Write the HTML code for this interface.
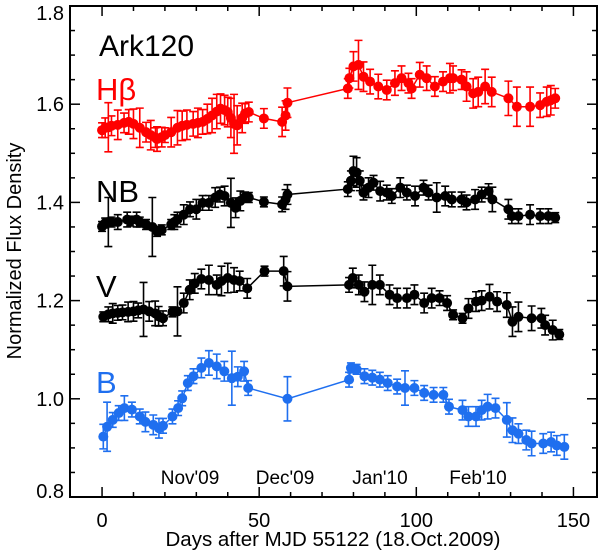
<!DOCTYPE html>
<html><head><meta charset="utf-8"><style>
html,body{margin:0;padding:0;background:#fff;}
svg{display:block;font-family:"Liberation Sans",sans-serif;}
</style></head><body>
<svg id="chart" width="600" height="550" viewBox="0 0 600 550" xmlns="http://www.w3.org/2000/svg">
<g id="axes"></g>
<g id="series"></g>
<text x="99" y="56" font-size="30">Ark120</text>
<text x="96" y="100" font-size="31" fill="#ff0000">Hβ</text>
<text x="96" y="202" font-size="31">NB</text>
<text x="96" y="297" font-size="31">V</text>
<text x="96" y="393" font-size="31" fill="#1f6fef">B</text>
<text x="190" y="484" font-size="19" text-anchor="middle">Nov'09</text>
<text x="285" y="484" font-size="19" text-anchor="middle">Dec'09</text>
<text x="380" y="484" font-size="19" text-anchor="middle">Jan'10</text>
<text x="478" y="484" font-size="19" text-anchor="middle">Feb'10</text>
<text x="333" y="546" font-size="20.5" text-anchor="middle">Days after MJD 55122 (18.Oct.2009)</text>
<text x="0" y="0" font-size="20" text-anchor="middle" transform="translate(21,251) rotate(-90)">Normalized Flux Density</text>
</svg>
<script>
const xTicks=[0,50,100,150];
const yTicks=[0.8,1.0,1.2,1.4,1.6,1.8];
const yTickLabels=["0.8","1.0","1.2","1.4","1.6","1.8"];
const hbDays=[0,1,2,3,5,7,8.5,10,12,14,15.5,17,17.5,19,20,22,24,25.5,27,29,30.5,32,33.5,35,36.5,37.7,39,40,41,42,43,44.6,45.5,46.7,51.5,57.3,58.4,59,78.2,78.7,80,81.6,83.2,85.3,87.9,90.6,93.2,95.3,97.5,98.5,101.1,103.3,105.9,108.5,110.7,111.7,114.4,116,118.1,119.7,121.9,124,129.3,132,136.2,139.4,141.5,142.8,144.2];
const hbVals=[1.547,1.552,1.553,1.556,1.558,1.562,1.564,1.56,1.552,1.543,1.537,1.532,1.529,1.533,1.537,1.543,1.552,1.556,1.558,1.56,1.562,1.564,1.57,1.577,1.585,1.591,1.588,1.584,1.572,1.56,1.557,1.572,1.581,1.584,1.571,1.564,1.577,1.603,1.632,1.653,1.677,1.68,1.656,1.646,1.636,1.629,1.643,1.653,1.643,1.632,1.66,1.653,1.636,1.646,1.653,1.653,1.65,1.636,1.622,1.625,1.636,1.625,1.612,1.595,1.595,1.598,1.605,1.608,1.612];
const hbErr=[0.015,0.02,0.05,0.02,0.03,0.02,0.025,0.03,0.04,0.02,0.03,0.02,0.025,0.02,0.015,0.03,0.035,0.03,0.03,0.025,0.03,0.025,0.03,0.035,0.035,0.03,0.03,0.03,0.04,0.06,0.04,0.03,0.02,0.02,0.02,0.03,0.03,0.03,0.02,0.02,0.03,0.05,0.03,0.025,0.025,0.02,0.025,0.025,0.02,0.02,0.025,0.025,0.02,0.02,0.03,0.025,0.02,0.03,0.03,0.03,0.035,0.03,0.035,0.04,0.04,0.025,0.03,0.03,0.02];
const nbDays=[0,1,2,3,5,8,9,11,12,14,16,17.5,19,22,23,24,26,28,30,32,34,36,37.5,39,41,42.5,44,45.5,46.7,51.5,57.3,58.4,59,78.2,79.2,80,81,82,83.2,84.8,86.4,88.5,90.6,92.2,94.9,97,99.6,102.3,103.9,106.5,109.2,111.3,114.4,116,118.7,120.8,123,124.2,129.3,130.4,132.5,136.2,139.4,142,144.2];
const nbVals=[1.351,1.358,1.36,1.36,1.36,1.365,1.362,1.365,1.36,1.355,1.35,1.341,1.344,1.355,1.36,1.365,1.375,1.386,1.386,1.399,1.399,1.41,1.416,1.413,1.399,1.389,1.403,1.411,1.41,1.401,1.396,1.406,1.416,1.427,1.444,1.464,1.461,1.444,1.42,1.43,1.44,1.423,1.42,1.413,1.43,1.42,1.413,1.43,1.42,1.41,1.413,1.406,1.406,1.4,1.406,1.416,1.423,1.406,1.386,1.372,1.372,1.375,1.372,1.372,1.369];
const nbErr=[0.01,0.01,0.05,0.01,0.015,0.015,0.01,0.015,0.01,0.01,0.06,0.01,0.01,0.01,0.015,0.015,0.02,0.015,0.02,0.015,0.015,0.02,0.015,0.02,0.05,0.02,0.02,0.01,0.01,0.01,0.015,0.02,0.02,0.015,0.02,0.03,0.03,0.02,0.015,0.02,0.015,0.02,0.015,0.015,0.02,0.015,0.02,0.015,0.015,0.03,0.02,0.015,0.015,0.015,0.02,0.015,0.015,0.025,0.02,0.015,0.015,0.02,0.015,0.015,0.01];
const vDays=[0.4,2,3.4,5,6.5,8.3,10,11.5,13.2,15,16.9,18,19.4,22.4,24,26,27.9,29.5,31.6,34,36.5,38,40,42,43.8,46.2,51.7,57.8,59,78.6,79.8,81.7,83.5,86,88.4,91.5,93.9,97,99.4,102.5,104.9,107.4,109.8,111.7,114.7,116.6,119,120.8,123.3,125.7,128.8,130.6,132.5,136.7,139.8,141,143.4,145.5];
const vVals=[1.167,1.172,1.174,1.175,1.176,1.177,1.178,1.18,1.182,1.178,1.174,1.168,1.164,1.177,1.178,1.195,1.222,1.235,1.244,1.242,1.232,1.24,1.246,1.242,1.24,1.225,1.26,1.26,1.229,1.232,1.246,1.232,1.218,1.232,1.232,1.212,1.205,1.205,1.212,1.195,1.205,1.205,1.195,1.171,1.164,1.184,1.198,1.2,1.208,1.198,1.191,1.157,1.167,1.164,1.164,1.15,1.14,1.131];
const vErr=[0.01,0.015,0.02,0.015,0.015,0.02,0.02,0.015,0.055,0.02,0.025,0.02,0.015,0.01,0.05,0.02,0.02,0.02,0.02,0.03,0.02,0.03,0.03,0.025,0.02,0.02,0.01,0.03,0.03,0.015,0.02,0.02,0.02,0.04,0.02,0.02,0.02,0.02,0.02,0.02,0.02,0.015,0.015,0.01,0.01,0.02,0.02,0.02,0.025,0.02,0.025,0.03,0.03,0.025,0.02,0.02,0.02,0.01];
const bDays=[0.4,1.6,3.4,5.3,7.1,9.5,12,13.8,16.3,18.1,19.4,22.4,24.2,25.5,27.3,29.1,31.6,34,36.5,38.9,41.3,43.2,45.2,46.5,59,78.6,79.2,81,83.5,86,88.4,90.9,93.9,96.4,99.4,102.5,105.5,108.6,110.4,114.7,116.6,119,120.8,122.7,125.2,128.8,130.6,132.5,135,136.7,140.4,142.9,144.7,147.1];
const bVals=[0.923,0.943,0.957,0.971,0.981,0.978,0.964,0.953,0.947,0.94,0.945,0.964,0.981,1.001,1.032,1.046,1.063,1.073,1.066,1.056,1.042,1.045,1.056,1.022,1.0,1.039,1.063,1.06,1.046,1.043,1.039,1.032,1.025,1.022,1.022,1.012,1.008,1.008,0.984,0.977,0.964,0.964,0.977,0.984,0.981,0.957,0.936,0.929,0.916,0.909,0.909,0.912,0.905,0.902];
const bErr=[0.025,0.05,0.015,0.015,0.025,0.015,0.015,0.02,0.02,0.02,0.015,0.015,0.015,0.015,0.015,0.015,0.02,0.025,0.025,0.02,0.055,0.02,0.02,0.015,0.045,0.015,0.01,0.01,0.015,0.015,0.015,0.015,0.015,0.035,0.015,0.015,0.015,0.015,0.015,0.02,0.02,0.02,0.02,0.025,0.02,0.035,0.025,0.02,0.02,0.025,0.02,0.02,0.02,0.025];

const L=70,R=597,T=6,B=497,X0=-10.2,X1=157.5,Y0=0.8,Y1=1.8;
const NS='http://www.w3.org/2000/svg';
function sx(d){return L+(d-X0)/(X1-X0)*(R-L);}
function sy(v){return B-(v-Y0)/(Y1-Y0)*(B-T);}
function mk(tag,attrs,parent){const e=document.createElementNS(NS,tag);for(const k in attrs)e.setAttribute(k,attrs[k]);parent.appendChild(e);return e;}
const ax=document.getElementById('axes');
const frame=mk('rect',{x:L,y:T,width:R-L,height:B-T,fill:'none',stroke:'#000','stroke-width':2},ax);


for(let d=0;d<=150;d+=10){
  const big=xTicks.includes(d);const len=big?10:5;const x=sx(d);
  const t1=mk('line',{x1:x,x2:x,y1:B,y2:B-len,stroke:'#000','stroke-width':1.5},ax);
  
  
  const t2=mk('line',{x1:x,x2:x,y1:T,y2:T+len,stroke:'#000','stroke-width':1.5},ax);
  
  
}
xTicks.forEach(d=>{
  const t=mk('text',{x:sx(d),y:527,'font-size':20,'text-anchor':'middle'},ax);t.textContent=String(d);
  
  
});
for(let i=0;i<=20;i++){
  const v=0.8+i*0.05;const big=i%4===0;const len=big?10:5;const y=sy(v);
  const t1=mk('line',{x1:L,x2:L+len,y1:y,y2:y,stroke:'#000','stroke-width':1.5},ax);
  
  
  const t2=mk('line',{x1:R,x2:R-len,y1:y,y2:y,stroke:'#000','stroke-width':1.5},ax);
  
  
}
yTicks.forEach((v,i)=>{
  let y=sy(v)+7;if(i===0)y-=6;if(i===yTicks.length-1)y+=7;
  const t=mk('text',{x:64,y:y,'font-size':20,'text-anchor':'end'},ax);t.textContent=yTickLabels[i];
  
  
});
const sg=document.getElementById('series');
function drawSeries(name,days,vals,errs,color){
  const g=mk('g',{},sg);
  
  
  const pts=days.map((d,i)=>sx(d).toFixed(1)+','+sy(vals[i]).toFixed(1)).join(' ');
  const pl=mk('polyline',{points:pts,fill:'none',stroke:color,'stroke-width':1.5},g);
  
  
  days.forEach((d,i)=>{
    const x=sx(d),y1=sy(vals[i]+errs[i]),y2=sy(vals[i]-errs[i]);
    const eb=mk('path',{d:`M${x},${y1}V${y2}M${x-4},${y1}H${x+4}M${x-4},${y2}H${x+4}`,stroke:color,'stroke-width':1.6,fill:'none'},g);
    
    
  });
  days.forEach((d,i)=>{
    const c=mk('circle',{cx:sx(d),cy:sy(vals[i]),r:5,fill:color},g);
    
    
  });
}
drawSeries('hbeta-series',hbDays,hbVals,hbErr,'#ff0000');
drawSeries('nb-series',nbDays,nbVals,nbErr,'#000000');
drawSeries('v-series',vDays,vVals,vErr,'#000000');
drawSeries('b-series',bDays,bVals,bErr,'#1f6fef');
</script>
</body></html>
